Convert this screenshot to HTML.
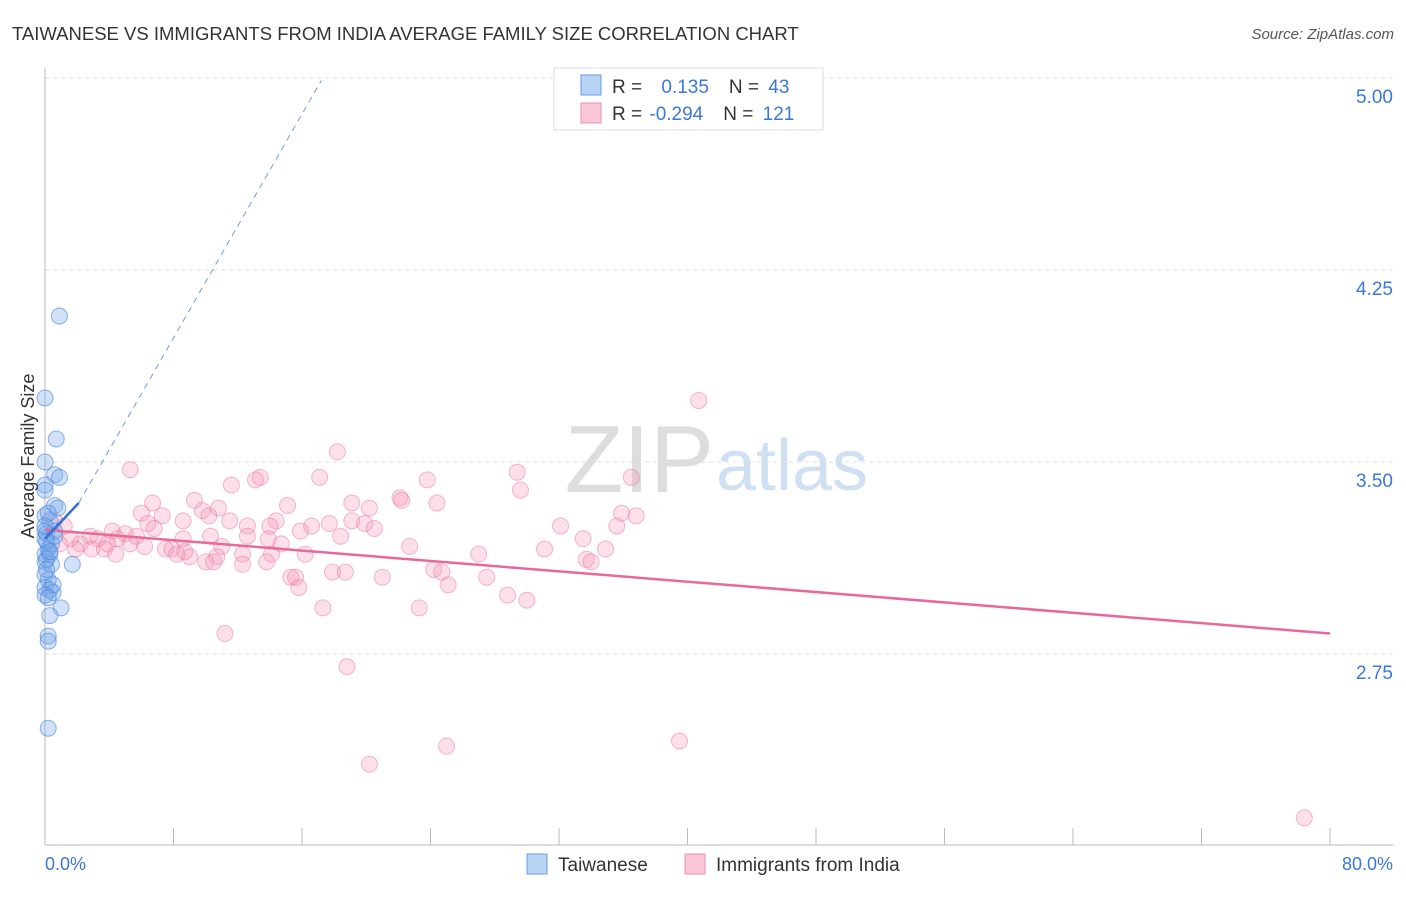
<!DOCTYPE html>
<html><head><meta charset="utf-8"><style>
body{margin:0;background:#fff;font-family:"Liberation Sans",sans-serif;}
svg text{font-family:"Liberation Sans",sans-serif;}
</style></head><body>
<svg id="chart" width="1406" height="892">
<text x="12" y="40" font-size="18.5" fill="#333">TAIWANESE VS IMMIGRANTS FROM INDIA AVERAGE FAMILY SIZE CORRELATION CHART</text>
<text x="1394" y="39" font-size="15" fill="#555" font-style="italic" text-anchor="end">Source: ZipAtlas.com</text>
<text x="714" y="492" font-size="96" fill="#ddd" text-anchor="end" font-family="Liberation Serif">ZIP</text>
<text x="716" y="490" font-size="72" fill="#cfe0f3">atlas</text>
<g id="grid"></g><g id="axes"></g><g id="pts"></g><g id="trend"></g>
<text transform="translate(34,456) rotate(-90)" font-size="18" fill="#333" text-anchor="middle">Average Family Size</text>
<text x="45" y="870" font-size="18" fill="#3b78d8">0.0%</text>
<text x="1393" y="870" font-size="18" fill="#3b78d8" text-anchor="end">80.0%</text>
<g>
<rect x="554" y="68" width="269" height="62" fill="#fff" stroke="#ddd"/>
<rect x="581" y="75" width="20" height="20" fill="#b9d3f5" stroke="#6a9be0"/>
<rect x="581" y="103" width="20" height="20" fill="#f9c6d5" stroke="#ec8fae"/>
<text x="612" y="93" font-size="19" fill="#333">R = <tspan fill="#3b78d8" dx="14">0.135</tspan><tspan dx="20">N = </tspan><tspan fill="#3b78d8" dx="4">43</tspan></text>
<text x="612" y="120" font-size="19" fill="#333">R = <tspan fill="#3b78d8" dx="2">-0.294</tspan><tspan dx="20">N = </tspan><tspan fill="#3b78d8" dx="4">121</tspan></text>
</g>
<g>
<rect x="527" y="854" width="20" height="20" fill="#b9d3f5" stroke="#6a9be0"/>
<text x="558" y="871" font-size="19" fill="#333">Taiwanese</text>
<rect x="685" y="854" width="20" height="20" fill="#f9c6d5" stroke="#ec8fae"/>
<text x="716" y="871" font-size="19" fill="#333">Immigrants from India</text>
</g>
</svg>
<script>
const yTicks=[5.00,4.25,3.50,2.75];
const xTicks=[0,8,16,24,32,40,48,56,64,72,80];
const blueX=[0.9,0,0.7,0,0.6,0.9,0,0,0.6,0.8,0,0.3,0,0.6,0,0.2,0,0.3,0,0.4,1.7,0,0.2,0,0.3,0.5,0,1.0,0.3,0.2,0.2,0.2,0.1,0.4,0.1,0.5,0.2,0.1,0.3,0,0.6,0.2,0.1];
const blueY=[4.07,3.75,3.59,3.50,3.45,3.44,3.41,3.39,3.33,3.32,3.29,3.27,3.23,3.23,3.20,3.16,3.14,3.14,3.11,3.10,3.10,3.06,3.04,3.01,3.00,2.99,2.98,2.93,2.90,2.82,2.80,2.46,3.22,3.18,3.12,3.02,3.30,3.19,3.15,3.25,3.21,2.97,3.08];
const pinkX=[40.7,18.2,5.3,29.4,36.5,17.1,13.4,13.1,23.8,11.6,29.6,6.7,9.3,19.1,22.1,22.2,24.4,15.1,10.8,20.2,6.0,9.8,10.2,35.9,36.8,7.3,14.4,8.6,11.5,17.7,19.1,6.4,19.9,14.0,12.6,16.6,6.8,15.9,20.5,32.1,35.6,4.2,1.2,0.6,2.8,5.0,10.3,12.6,18.4,33.5,13.9,3.3,4.5,5.7,8.6,1.6,0.9,2.2,3.9,5.3,7.5,6.2,14.7,11.0,22.7,31.1,34.9,2.9,1.9,3.7,7.9,8.7,4.4,16.2,12.3,14.1,9.0,10.7,27.0,8.2,33.7,34.0,10.0,12.3,13.8,10.5,24.2,24.7,17.9,18.7,15.3,15.6,21.0,27.5,15.8,25.1,28.8,30.0,17.3,23.3,11.2,18.8,25.0,39.5,20.2,78.4];
const pinkY=[3.74,3.54,3.47,3.46,3.44,3.44,3.44,3.43,3.43,3.41,3.39,3.34,3.35,3.34,3.36,3.35,3.34,3.33,3.32,3.32,3.30,3.31,3.29,3.30,3.29,3.29,3.27,3.27,3.27,3.26,3.27,3.26,3.26,3.25,3.25,3.25,3.24,3.23,3.24,3.25,3.25,3.23,3.25,3.27,3.21,3.22,3.21,3.21,3.21,3.20,3.20,3.20,3.20,3.21,3.20,3.20,3.18,3.18,3.18,3.18,3.16,3.17,3.18,3.17,3.17,3.16,3.16,3.16,3.16,3.16,3.16,3.15,3.14,3.14,3.14,3.14,3.13,3.13,3.14,3.14,3.12,3.11,3.11,3.10,3.11,3.11,3.08,3.07,3.07,3.07,3.05,3.05,3.05,3.05,3.01,3.02,2.98,2.96,2.93,2.93,2.83,2.70,2.39,2.41,2.32,2.11];
const blueTrend=[[0,3.20],[2.1,3.34]];
const blueDash=[[2.1,3.34],[17.2,4.99]];
const pinkTrend=[[0,3.235],[80,2.83]];
const X=v=>45+v/80*1285, Y=v=>78+(5-v)*256;
const NS="http://www.w3.org/2000/svg";
function mk(p,t,a){const e=document.createElementNS(NS,t);for(const k in a)e.setAttribute(k,a[k]);p.appendChild(e);return e;}
const grid=document.getElementById('grid'),axes=document.getElementById('axes'),pts=document.getElementById('pts'),tr=document.getElementById('trend');
yTicks.forEach(v=>{
 const l=mk(grid,'line',{x1:45,x2:1393,y1:Y(v),y2:Y(v),stroke:'#ddd','stroke-dasharray':'4,4'});
 
 
 const t=mk(grid,'text',{x:1393,y:Y(v)+25,'font-size':19,fill:'#3b78d8','text-anchor':'end'});t.textContent=v.toFixed(2);
 
 
});
const ax=mk(axes,'line',{x1:45,x2:45,y1:68,y2:845,stroke:'#bbb'});


const bx=mk(axes,'line',{x1:45,x2:1393,y1:845,y2:845,stroke:'#bbb'});


xTicks.forEach(v=>{
 const t=mk(axes,'line',{x1:X(v),x2:X(v),y1:828,y2:845,stroke:'#bbb'});
 
 
});
pinkX.forEach((v,i)=>{
 const c=mk(pts,'circle',{cx:X(v),cy:Y(pinkY[i]),r:8,fill:'rgba(244,150,180,0.3)',stroke:'rgba(232,120,160,0.5)','stroke-width':1});
 
 
});
blueX.forEach((v,i)=>{
 const c=mk(pts,'circle',{cx:X(v),cy:Y(blueY[i]),r:8,fill:'rgba(120,170,235,0.35)',stroke:'rgba(70,130,220,0.6)','stroke-width':1});
 
 
});
const pl=mk(tr,'line',{x1:X(pinkTrend[0][0]),y1:Y(pinkTrend[0][1]),x2:X(pinkTrend[1][0]),y2:Y(pinkTrend[1][1]),stroke:'#e8689a','stroke-width':2.5});


const bd=mk(tr,'line',{x1:X(blueDash[0][0]),y1:Y(blueDash[0][1]),x2:X(blueDash[1][0]),y2:Y(blueDash[1][1]),stroke:'#6a9be0','stroke-width':1,'stroke-dasharray':'6,5'});


const bl=mk(tr,'line',{x1:X(blueTrend[0][0]),y1:Y(blueTrend[0][1]),x2:X(blueTrend[1][0]),y2:Y(blueTrend[1][1]),stroke:'#2f6fd6','stroke-width':2.5});


</script>
</body></html>
